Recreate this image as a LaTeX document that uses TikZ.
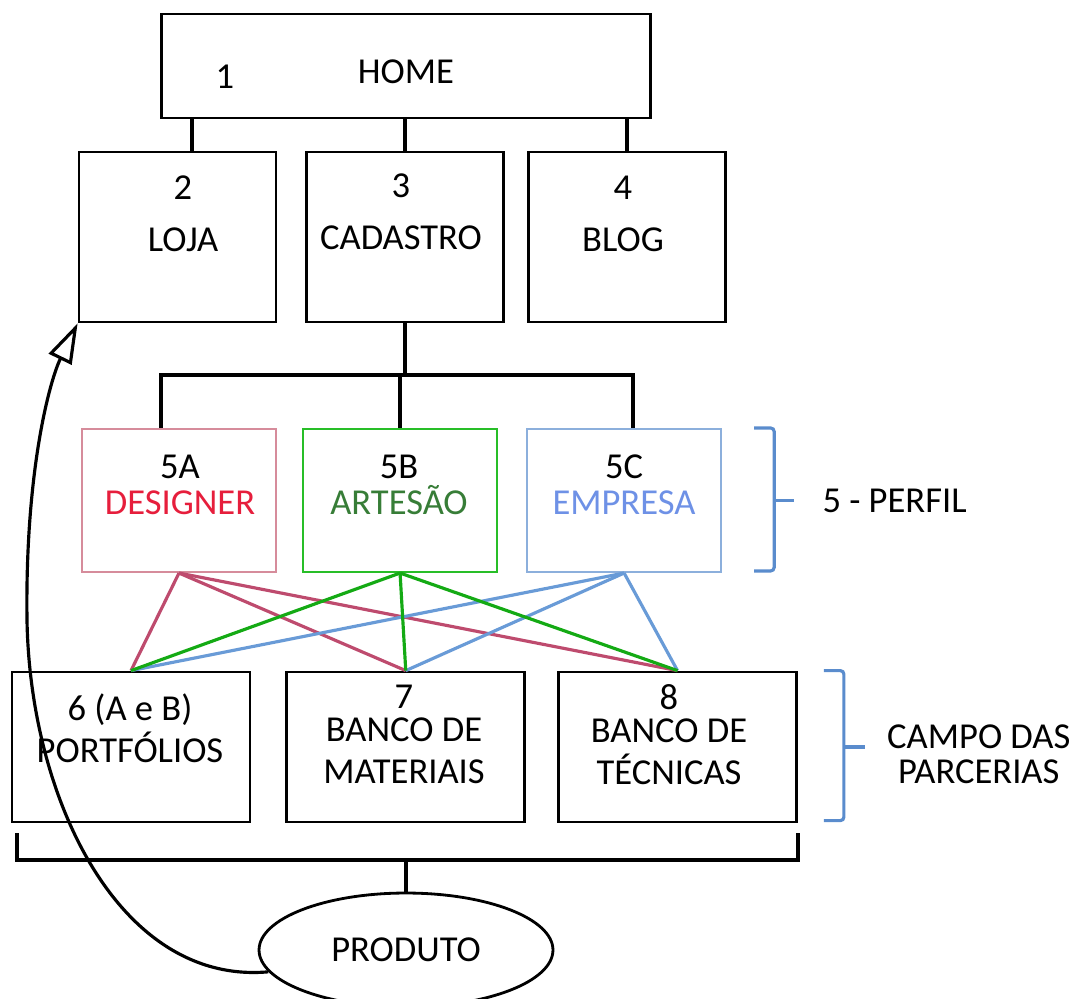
\documentclass[tikz,border=0pt]{standalone}
\usepackage{fontspec}
\setmainfont{Carlito}
\usetikzlibrary{shapes.geometric, arrows.meta, positioning}

\definecolor{boxA}{RGB}{214,140,155}
\definecolor{linkA}{RGB}{190,75,110}
\definecolor{txtA}{RGB}{230,30,60}
\definecolor{boxB}{RGB}{40,190,40}
\definecolor{linkB}{RGB}{20,170,20}
\definecolor{txtB}{RGB}{55,125,55}
\definecolor{boxC}{RGB}{140,175,220}
\definecolor{linkC}{RGB}{105,155,215}
\definecolor{txtC}{RGB}{110,145,230}
\definecolor{grpblue}{RGB}{90,140,205}

\begin{document}
\begin{tikzpicture}[
  x=0.02cm, y=-0.02cm,
  font=\fontsize{20.8}{24}\selectfont,
  box/.style={rectangle, draw=black, line width=1.6pt, minimum width=3.94cm, minimum height=3.4cm, inner sep=0pt},
  perfil/.style={rectangle, line width=1.2pt, minimum width=3.88cm, minimum height=2.86cm, inner sep=0pt},
  campo/.style={box, minimum width=4.76cm, minimum height=3cm},
  txt/.style={align=center, inner sep=0pt},
  tree/.style={line width=2pt},
  link/.style={line width=1.8pt},
  grp/.style={draw=grpblue, line width=1.8pt, rounded corners=2pt},
  arrow/.style={-{Triangle[open, length=0.8cm, width=0.5cm]}, line width=1.8pt}
]
  \useasboundingbox (0,0) rectangle (1074,998);

  \node[box, minimum width=9.78cm, minimum height=2.08cm] (home) at (406,66) {};
  \node[txt] (n1) at (225,77) {1};
  \node[txt] (homeT) at (406,72) {HOME};

  \node[box] (loja) at (177.5,237) {};
  \node[box, right=0.55cm of loja] (cad) {};
  \node[box, right=0.45cm of cad] (blog) {};
  \node[txt] (lojaT) at (183,214) {2\\[5.7pt]LOJA};
  \node[txt] (cadT) at (401,211.5) {3\\[5.7pt]CADASTRO};
  \node[txt] (blogT) at (623,214) {4\\[5.7pt]BLOG};

  \node[perfil, draw=boxA] (desg) at (179,500.5) {};
  \node[perfil, draw=boxB, right=0.5cm of desg] (art) {};
  \node[perfil, draw=boxC, right=0.56cm of art] (empr) {};
  \node[txt] (desgT) at (180,485) {5A\\[-3.4pt]\textcolor{txtA}{DESIGNER}};
  \node[txt] (artT) at (399,485) {5B\\[-3.4pt]\textcolor{txtB}{ARTESÃO}};
  \node[txt] (emprT) at (624,485) {5C\\[-3.4pt]\textcolor{txtC}{EMPRESA}};

  \node[campo] (port) at (131,747) {};
  \node[campo, right=0.68cm of port] (mat) {};
  \node[campo, right=0.62cm of mat] (tec) {};
  \node[txt] (portT) at (130,728.5) {6 (A e B)\\PORTFÓLIOS};
  \node[txt] (matT) at (404,734.5) {7\\[-5.1pt]BANCO DE\\MATERIAIS};
  \node[txt] (tecT) at (669,734.5) {8\\[-5.1pt]BANCO DE\\TÉCNICAS};

  \node[ellipse, draw, line width=1.6pt, minimum width=5.88cm, minimum height=2.28cm, inner sep=0pt] (prod) at (406,950) {PRODUTO};

  % home -> 2, 3, 4
  \coordinate (hl) at ([xshift=0.29cm]loja.north);
  \draw[tree] (hl) -- (hl |- home.south);
  \draw[tree] (cad.north) -- (cad.north |- home.south);
  \draw[tree] (blog.north) -- (blog.north |- home.south);

  % cadastro -> perfis
  \coordinate (bus) at (402,375);
  \coordinate (busL) at ([xshift=-0.36cm]desg.north);
  \coordinate (busR) at ([xshift=0.18cm]empr.north);
  \draw[tree] (cad.south) -- (cad.south |- bus);
  \draw[tree] (busL) |- (bus) -| (busR);
  \draw[tree] (art.north) -- (art.north |- bus);

  % perfis -> campo das parcerias
  \draw[link, linkA] (desg.south) -- (port.north);
  \draw[link, linkA] (desg.south) -- (mat.north);
  \draw[link, linkA] (desg.south) -- (tec.north);
  \draw[link, linkC] (empr.south) -- (port.north);
  \draw[link, linkC] (empr.south) -- (mat.north);
  \draw[link, linkC] (empr.south) -- (tec.north);
  \draw[link, linkB] (art.south) -- (port.north);
  \draw[link, linkB] (art.south) -- (mat.north);
  \draw[link, linkB] (art.south) -- (tec.north);

  % chaves
  \draw[grp] ([xshift=0.64cm]empr.north east) -- ++(20,0) -- ++(0,143) -- ++(-20,0);
  \draw[grp] ([xshift=1.04cm]empr.east) -- ++(20,0) coordinate (perfTip);
  \node[txt, right=0.56cm of perfTip] (perfL) {5 - PERFIL};
  \draw[grp] ([xshift=0.52cm]tec.north east) -- ++(20,0) -- ++(0,150) -- ++(-20,0);
  \draw[grp] ([xshift=0.92cm]tec.east) -- ++(21,0) coordinate (campoTip);
  \node[txt, right=0.44cm of campoTip, yshift=-0.14cm] (campoL) {CAMPO DAS\\[-4pt]PARCERIAS};

  % produto
  \coordinate (brL) at (17,833);
  \coordinate (brR) at (798,833);
  \coordinate (brM) at (406,860);
  \draw[tree] (brL) |- (brM) -| (brR);
  \draw[tree] (brM) -- (prod.north);
  \draw[arrow] (prod.189) .. controls (120,985) and (30,800) .. (27,620)
    .. controls (25,470) and (50,380) .. (loja.south west);
\end{tikzpicture}
\end{document}
